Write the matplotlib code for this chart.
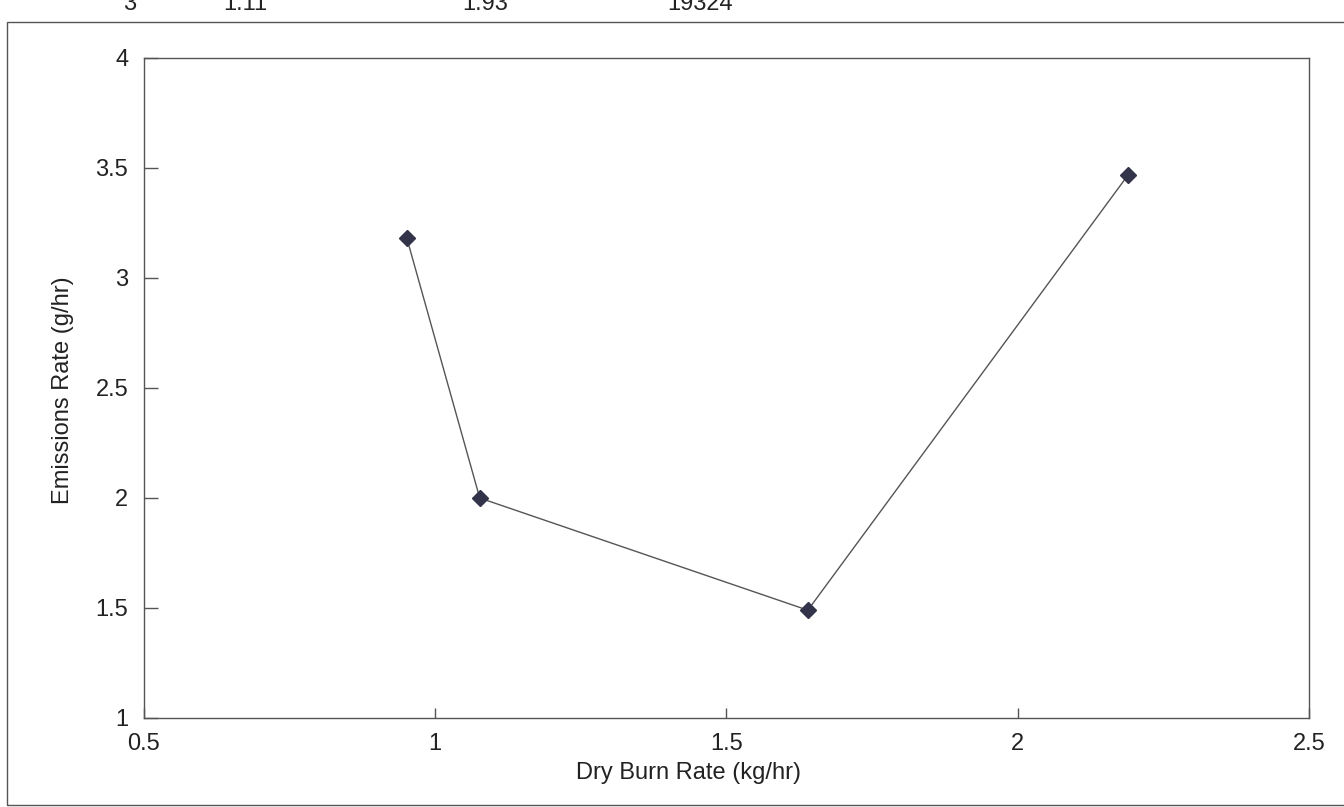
import matplotlib
matplotlib.use("Agg")
import matplotlib.pyplot as plt
from matplotlib.patches import Rectangle

plt.rcParams['font.family'] = ['Liberation Sans', 'DejaVu Sans']

# Data
burn_rate = [0.952, 1.077, 1.640, 2.190]
emissions = [3.18, 2.00, 1.49, 3.47]
x_ticks = [0.5, 1, 1.5, 2, 2.5]
y_ticks = [1, 1.5, 2, 2.5, 3, 3.5, 4]
x_label = "Dry Burn Rate (kg/hr)"
y_label = "Emissions Rate (g/hr)"
header_texts = ["3", "1.11", "1.93", "19324"]
header_x = [130, 245, 485, 700]

W, H = 1344, 807
FS = 17
fig = plt.figure(figsize=(W / 100, H / 100), dpi=100)
fig.patch.set_facecolor('white')

# outer frame
fig.patches.append(Rectangle((7 / W, 1 - 805 / H), 1.2, (805 - 22) / H,
                             transform=fig.transFigure, fill=False,
                             edgecolor='#555555', linewidth=1.0))

# cropped header row (partially cut off at the top, as in the scan)
for t, xp in zip(header_texts, header_x):
    fig.text(xp / W, 1 - 10 / H, t, fontsize=FS, color='#222222',
             ha='center', va='baseline')

left, right = 143.5 / W, 1309 / W
bottom, top = 1 - 718 / H, 1 - 58 / H
ax = fig.add_axes([left, bottom, right - left, top - bottom])

ax.plot(burn_rate, emissions, color='#555555', linewidth=1.0,
        marker='D', markersize=8.5, markerfacecolor='#33334a',
        markeredgecolor='#33334a', zorder=3)

ax.set_xlim(0.5, 2.5)
ax.set_ylim(1, 4)
ax.set_xticks(x_ticks)
ax.set_yticks(y_ticks)
ax.set_xticklabels([f"{v:g}" for v in x_ticks])
ax.set_yticklabels([f"{v:g}" for v in y_ticks])

for s in ax.spines.values():
    s.set_color('#555555')
    s.set_linewidth(1.0)

ax.tick_params(axis='x', direction='in', length=7, width=1, color='#555555',
               pad=11, labelsize=FS, labelcolor='#222222')
ax.tick_params(axis='y', direction='in', length=10, width=1, color='#555555',
               pad=11, labelsize=FS, labelcolor='#222222')

fig.text(688 / W, 1 - 773 / H, x_label, fontsize=FS, color='#222222',
         ha='center', va='center')
fig.text(63 / W, 1 - 390 / H, y_label, fontsize=FS, color='#222222',
         ha='center', va='center', rotation=90)

fig.savefig("out.png", dpi=100)
